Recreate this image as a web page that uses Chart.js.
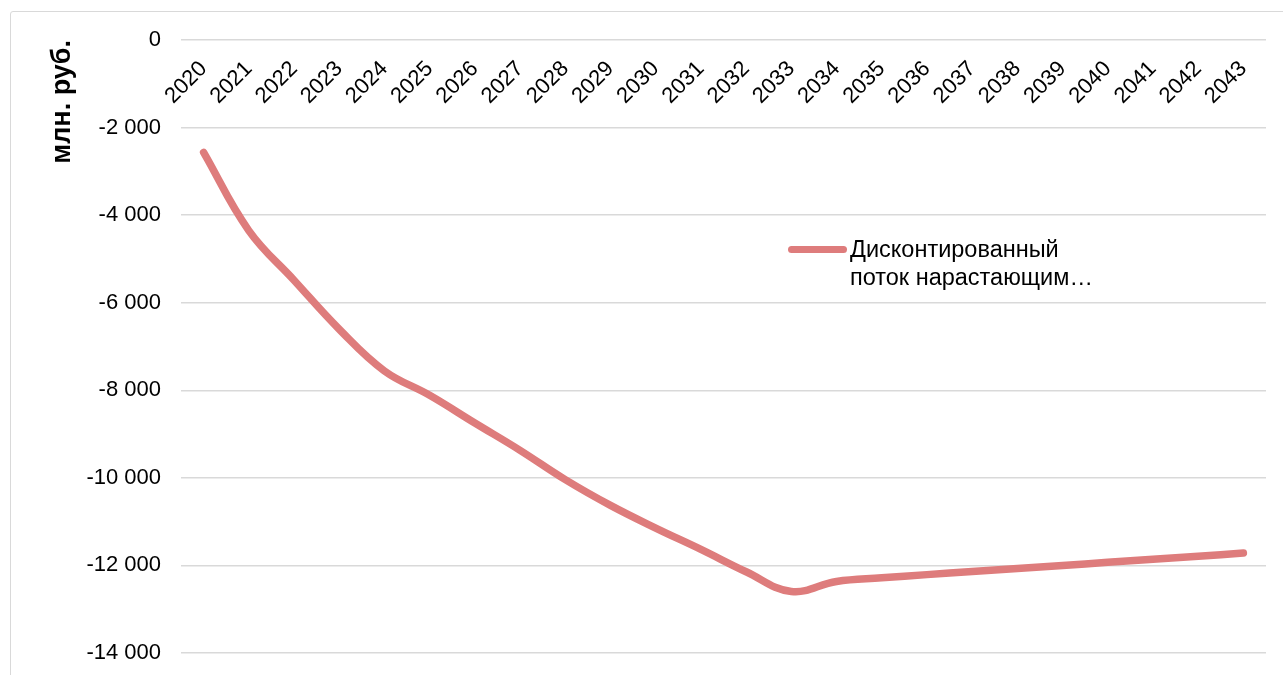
<!DOCTYPE html>
<html>
<head>
<meta charset="utf-8">
<script src="https://cdn.jsdelivr.net/npm/chart.js"></script>
<style>
  html, body { margin: 0; padding: 0; background: #fff; overflow: hidden; }
  #wrap { position: relative; width: 1283px; height: 675px; }
  #frame { position: absolute; left: 10px; top: 11px; width: 1300px; height: 700px; border: 1px solid #d9d9d9; border-radius: 3px; }
  canvas { position: absolute; left: 0; top: 0; }
  #legend { position: absolute; left: 788px; top: 235px; font-family: "Liberation Sans", Arial, sans-serif; font-size: 23.5px; line-height: 28px; color: #000; }
  #legend .swatch { position: absolute; left: 0; top: 11px; width: 59px; height: 7px; border-radius: 4px; background: #de7c7c; }
  #legend .text { margin-left: 62px; white-space: nowrap; }
</style>
</head>
<body>
<div id="wrap">
  <div id="frame"></div>
  <canvas id="chart" width="1283" height="675"></canvas>
  <div id="legend"><span class="swatch"></span><div class="text">Дисконтированный<br>поток нарастающим…</div></div>
</div>
<script>
// данные графика
const years = ['2020', '2021', '2022', '2023', '2024', '2025', '2026', '2027', '2028', '2029', '2030', '2031',
               '2032', '2033', '2034', '2035', '2036', '2037', '2038', '2039', '2040', '2041', '2042', '2043'];
const discountedCumulative = [-2567, -4352, -5486, -6606, -7558, -8114, -8747, -9371, -10041, -10629, -11147, -11634,
                              -12144, -12594, -12366, -12283, -12210, -12140, -12070, -12000, -11930, -11860, -11790, -11718];
const seriesLabel = 'Дисконтированный поток нарастающим итогом';
const yTitle = 'млн. руб.';
const yMin = -14000, yMax = 0, yStep = 2000;

const font = '"Liberation Sans", Arial, sans-serif';

function fmt(v) {
    const s = String(Math.abs(v)).replace(/\B(?=(\d{3})+(?!\d))/g, ' ');
    return v < 0 ? '-' + s : s;
}

new Chart(document.getElementById('chart'), {
    type: 'line',
    data: {
        labels: years,
        datasets: [{
            label: seriesLabel,
            data: discountedCumulative,
            borderColor: '#de7c7c',
            backgroundColor: '#de7c7c',
            borderWidth: 7.5,
            borderCapStyle: 'round',
            borderJoinStyle: 'round',
            pointRadius: 0,
            tension: 0.4,
            fill: false
        }]
    },
    options: {
        responsive: false,
        animation: false,
        layout: { padding: { left: 0, top: 40, right: 17, bottom: 22 } },
        plugins: {
            legend: { display: false },
            tooltip: { enabled: false }
        },
        scales: {
            x: {
                position: { y: 0 },
                offset: true,
                grid: { display: false, drawTicks: false },
                border: { display: false },
                ticks: {
                    autoSkip: false,
                    minRotation: 45,
                    maxRotation: 45,
                    padding: 16,
                    color: '#000',
                    font: { family: font, size: 22 }
                }
            },
            y: {
                min: yMin,
                max: yMax,
                afterFit: (scale) => {
                    scale.width = 181;
                    scale.paddingBottom = 10; // подпись -14 000 не должна поднимать область графика
                },
                grid: { color: '#d9d9d9', lineWidth: 1.5, drawTicks: false },
                border: { display: false },
                ticks: {
                    stepSize: yStep,
                    padding: 20,
                    color: '#000',
                    font: { family: font, size: 22 },
                    callback: (v) => fmt(v)
                },
                title: {
                    display: true,
                    text: yTitle,
                    align: 'end',
                    color: '#000',
                    padding: { top: 46, bottom: 0 },
                    font: { family: font, size: 27, weight: 'bold' }
                }
            }
        }
    }
});
</script>
</body>
</html>
